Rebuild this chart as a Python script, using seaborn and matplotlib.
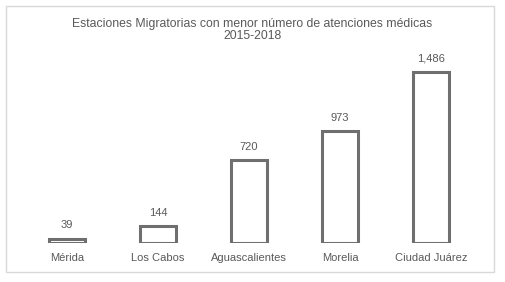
import matplotlib
matplotlib.use("Agg")
import matplotlib.pyplot as plt
import seaborn as sns
import pandas as pd
from matplotlib.patches import Rectangle

# data
estaciones = ["Mérida", "Los Cabos", "Aguascalientes", "Morelia", "Ciudad Juárez"]
atenciones = [39, 144, 720, 973, 1486]
etiquetas = ["39", "144", "720", "973", "1,486"]

titulo = "Estaciones Migratorias con menor número de atenciones médicas\n2015-2018"

gris_texto = "#595959"
gris_barra = "#6f6f6f"

sns.set_theme(style="white")
plt.rcParams["font.family"] = ["Liberation Sans", "DejaVu Sans"]

df = pd.DataFrame({"estacion": estaciones, "atenciones": atenciones})

fig = plt.figure(figsize=(5.05, 2.82), dpi=100)
fig.patch.set_facecolor("white")

# light frame around the chart
fig.add_artist(Rectangle((6 / 505, 10 / 282), 488 / 505, 266 / 282,
                         transform=fig.transFigure, fill=False,
                         edgecolor="#d9d9d9", linewidth=1))

ax = fig.add_axes([21.5 / 505, 39 / 282, 455 / 505, 184 / 282])
sns.barplot(data=df, x="estacion", y="atenciones", ax=ax, width=0.4,
            color="white", edgecolor=gris_barra, linewidth=2.2)

ax.set_xlim(-0.5, 4.5)
ax.set_ylim(0, 1600)
ax.set_xlabel("")
ax.set_ylabel("")
ax.set_yticks([])
for s in ax.spines.values():
    s.set_visible(False)
ax.tick_params(axis="x", length=0, pad=7, labelsize=8, labelcolor=gris_texto)

for i, (v, t) in enumerate(zip(atenciones, etiquetas)):
    ax.annotate(t, (i, v), xytext=(0, 6), textcoords="offset points",
                ha="center", va="bottom", fontsize=8, color=gris_texto)

fig.text(0.5, 1 - 30 / 282, titulo, ha="center", va="center",
         fontsize=8.8, color=gris_texto, linespacing=1.05)

fig.savefig("out.png", dpi=100)
